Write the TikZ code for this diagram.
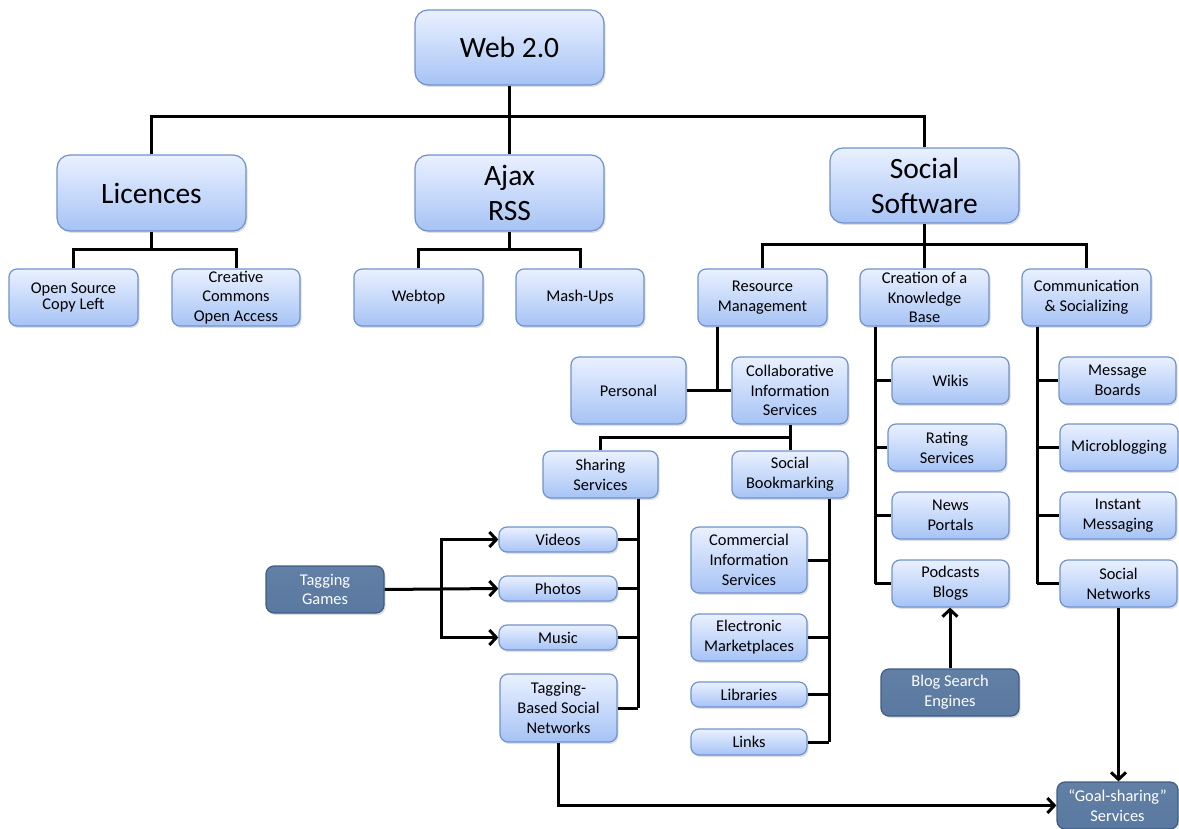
\documentclass[tikz,border=0pt]{standalone}
\usepackage{fontspec}
\setmainfont{Carlito}
\usetikzlibrary{arrows.meta,shadows}
\definecolor{boxtop}{RGB}{234,241,255}
\definecolor{boxbot}{RGB}{166,195,245}
\definecolor{boxline}{RGB}{112,146,204}
\definecolor{darkfill}{RGB}{90,121,160}
\definecolor{darkline}{RGB}{62,92,132}
\tikzset{
  box/.style={rectangle, rounded corners=8pt, draw=boxline, line width=1.2pt,
    top color=boxtop, bottom color=boxbot, align=center, inner sep=0pt,
    font=\fontsize{16.4}{19.8}\selectfont, text=black,
    drop shadow={shadow xshift=1.5pt, shadow yshift=-2pt, opacity=0.25}},
  bigbox/.style={box, rounded corners=13pt, font=\fontsize{29.5}{35}\selectfont},
  darkbox/.style={box, top color=darkfill!95!white, bottom color=darkfill,
    draw=darkline, text=white},
  conn/.style={line width=3pt, black},
  arr/.style={conn, -{Straight Barb[length=7pt,width=15pt,line width=3pt]}},
}
\begin{document}
\begin{tikzpicture}[x=1pt,y=-1pt]
\useasboundingbox (0,0) rectangle (1179,829);

% top levels
\node[bigbox, minimum width=189pt, minimum height=75pt] (web) at (509.5,47.5) {Web 2.0};
\node[bigbox, minimum width=189pt, minimum height=76pt] (lic) at (151.5,193) {Licences};
\node[bigbox, minimum width=189pt, minimum height=76pt] (ajax) at (509.5,193) {Ajax\\RSS};
\node[bigbox, minimum width=189pt, minimum height=75pt] (soc) at (924.5,185.5) {Social\\Software};

% second row
\node[box, minimum width=129pt, minimum height=57pt] (os) at (73.5,297.5) {Open Source\\[-4pt]Copy Left};
\node[box, minimum width=128pt, minimum height=57pt] (cc) at (236,297.5) {Creative\\Commons\\Open Access};
\node[box, minimum width=129pt, minimum height=57pt] (webtop) at (418.5,297.5) {Webtop};
\node[box, minimum width=128pt, minimum height=57pt] (mash) at (580,297.5) {Mash-Ups};
\node[box, minimum width=129pt, minimum height=57pt] (rm) at (762.5,297.5) {Resource\\Management};
\node[box, minimum width=129pt, minimum height=57pt] (ckb) at (924.5,297.5) {Creation of a\\Knowledge\\Base};
\node[box, minimum width=129pt, minimum height=57pt] (comm) at (1086.5,297.5) {Communication\\\& Socializing};

% resource management branch
\node[box, minimum width=115pt, minimum height=67pt] (pers) at (628.5,390.5) {Personal};
\node[box, minimum width=116pt, minimum height=67pt] (cis) at (790,390.5) {Collaborative\\Information\\Services};
\node[box, minimum width=115pt, minimum height=47pt] (share) at (600.5,474.5) {Sharing\\Services};
\node[box, minimum width=116pt, minimum height=47pt] (sbm) at (790,474.5) {Social\\Bookmarking};
\node[box, minimum width=118pt, minimum height=25pt] (vid) at (558,539.5) {Videos};
\node[box, minimum width=118pt, minimum height=25pt] (pho) at (558,588.5) {Photos};
\node[box, minimum width=118pt, minimum height=25pt] (mus) at (558,637.5) {Music};
\node[box, minimum width=117pt, minimum height=68pt] (tbsn) at (558.5,708) {Tagging-\\Based Social\\Networks};
\node[darkbox, minimum width=118pt, minimum height=47pt] (tg) at (325,589.5) {Tagging\\Games};
\node[box, minimum width=116pt, minimum height=66pt] (com) at (749,560) {Commercial\\Information\\Services};
\node[box, minimum width=116pt, minimum height=47pt] (elec) at (749,637.5) {Electronic\\Marketplaces};
\node[box, minimum width=116pt, minimum height=25pt] (lib) at (749,694.5) {Libraries};
\node[box, minimum width=116pt, minimum height=26pt] (links) at (749,742) {Links};

% knowledge base branch
\node[box, minimum width=117pt, minimum height=47pt] (wikis) at (950.5,380.5) {Wikis};
\node[box, minimum width=118pt, minimum height=47pt] (rating) at (947,447.5) {Rating\\Services};
\node[box, minimum width=117pt, minimum height=47pt] (news) at (950.5,515.5) {News\\Portals};
\node[box, minimum width=117pt, minimum height=47pt] (pod) at (950.5,583.5) {Podcasts\\Blogs};
\node[darkbox, minimum width=138pt, minimum height=47pt] (bse) at (950,692.5) {Blog Search\\Engines};

% communication branch
\node[box, minimum width=117pt, minimum height=47pt] (mb) at (1117.5,380.5) {Message\\Boards};
\node[box, minimum width=118pt, minimum height=47pt] (micro) at (1119,447.5) {Microblogging};
\node[box, minimum width=116pt, minimum height=47pt] (im) at (1118,515.5) {Instant\\Messaging};
\node[box, minimum width=117pt, minimum height=47pt] (sn) at (1118.5,583.5) {Social\\Networks};
\node[darkbox, minimum width=121pt, minimum height=47pt] (goal) at (1117.5,805.5) {``Goal-sharing''\\Services};

% junction points of the buses
\coordinate (b1) at (509.5,117);
\coordinate (b2) at (151.5,250);
\coordinate (b3) at (509.5,250);
\coordinate (b4) at (924.5,245);
\coordinate (rmj) at (717,390);
\coordinate (cisj) at (790,437);
\coordinate (shv) at (638,708);
\coordinate (sbv) at (829,742);
\coordinate (kbv) at (875,583.5);
\coordinate (cmv) at (1037,583.5);
\coordinate (tgj) at (441,589);

% tree connectors
\draw[conn] (web.south) -- (b1);
\draw[conn] (lic.north) |- (b1) -| (soc.north);
\draw[conn] (ajax.north) -- (b1);
\draw[conn] (lic.south) -- (b2);
\draw[conn] (os.north) |- (b2) -| (cc.north);
\draw[conn] (ajax.south) -- (b3);
\draw[conn] (webtop.north) |- (b3) -| (mash.north);
\draw[conn] (soc.south) -- (b4);
\draw[conn] (rm.north) |- (b4) -| (comm.north);
\draw[conn] (ckb.north) -- (b4);

\draw[conn] (rm.south -| rmj) -- (rmj);
\draw[conn] (pers.east) -- (cis.west);
\draw[conn] (cis.south) -- (cisj);
\draw[conn] (share.north) |- (cisj) -- (sbm.north);

\draw[conn] (share.south -| shv) -- (shv);
\draw[conn] (vid.east) -- (vid.east -| shv);
\draw[conn] (pho.east) -- (pho.east -| shv);
\draw[conn] (mus.east) -- (mus.east -| shv);
\draw[conn] (tbsn.east) -- (shv);

\draw[conn] (sbm.south -| sbv) -- (sbv);
\draw[conn] (com.east) -- (com.east -| sbv);
\draw[conn] (elec.east) -- (elec.east -| sbv);
\draw[conn] (lib.east) -- (lib.east -| sbv);
\draw[conn] (links.east) -- (sbv);

\draw[conn] (ckb.south -| kbv) -- (kbv);
\draw[conn] (wikis.west -| kbv) -- (wikis.west);
\draw[conn] (rating.west -| kbv) -- (rating.west);
\draw[conn] (news.west -| kbv) -- (news.west);
\draw[conn] (kbv) -- (pod.west);

\draw[conn] (comm.south -| cmv) -- (cmv);
\draw[conn] (mb.west -| cmv) -- (mb.west);
\draw[conn] (micro.west -| cmv) -- (micro.west);
\draw[conn] (im.west -| cmv) -- (im.west);
\draw[conn] (cmv) -- (sn.west);

% arrows
\draw[conn] (tg.east) -- (tgj);
\draw[arr] (tgj) |- (vid.west);
\draw[arr] (tgj) -- (pho.west);
\draw[arr] (tgj) |- (mus.west);
\draw[arr] (bse.north) -- (bse.north |- pod.south);
\draw[arr] (sn.south) -- (sn.south |- goal.north);
\draw[arr] (tbsn.south) |- (goal.west);
\end{tikzpicture}
\end{document}
